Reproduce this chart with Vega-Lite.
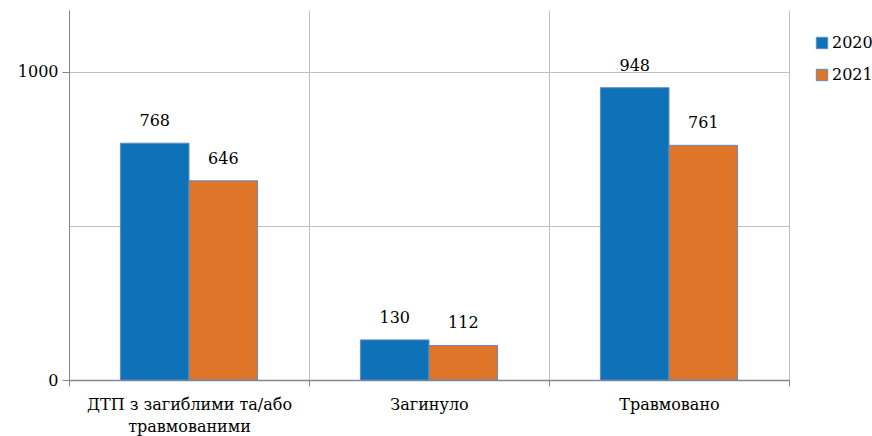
{
  "$schema": "https://vega.github.io/schema/vega-lite/v6.json",
  "width": 720,
  "height": 370,
  "autosize": {"type": "none"},
  "padding": {"left": 69, "top": 10, "right": 83, "bottom": 56},
  "background": "white",
  "config": {
    "view": {"stroke": null},
    "font": "DejaVu Serif",
    "axis": {"labelFont": "DejaVu Serif", "labelColor": "#000000"},
    "legend": {"labelFont": "DejaVu Serif"}
  },
  "data": {
    "values": [
      {"category": "ДТП з загиблими та/або травмованими", "year": "2020", "value": 768},
      {"category": "ДТП з загиблими та/або травмованими", "year": "2021", "value": 646},
      {"category": "Загинуло", "year": "2020", "value": 130},
      {"category": "Загинуло", "year": "2021", "value": 112},
      {"category": "Травмовано", "year": "2020", "value": 948},
      {"category": "Травмовано", "year": "2021", "value": 761}
    ]
  },
  "encoding": {
    "x": {
      "field": "category",
      "type": "nominal",
      "sort": null,
      "scale": {"paddingInner": 0, "paddingOuter": 0},
      "axis": {
        "title": null,
        "labelAngle": 0,
        "labelFontSize": 16,
        "labelPadding": 10,
        "labelLineHeight": 22,
        "labelLimit": 0,
        "labelExpr": "datum.value == 'ДТП з загиблими та/або травмованими' ? ['ДТП з загиблими та/або', 'травмованими'] : datum.value",
        "tickBand": "extent",
        "domainColor": "#868686",
        "tickColor": "#868686",
        "tickSize": 6,
        "grid": true,
        "gridColor": "#c0c0c0",
        "labelOverlap": false
      }
    },
    "xOffset": {
      "field": "year",
      "type": "nominal",
      "scale": {"paddingInner": 0, "paddingOuter": 0.75}
    },
    "y": {
      "field": "value",
      "type": "quantitative",
      "scale": {"domain": [0, 1200], "nice": false},
      "axis": {
        "title": null,
        "values": [0, 500, 1000],
        "labelExpr": "datum.value == 500 ? '' : datum.value",
        "labelFontSize": 16,
        "labelPadding": 4,
        "tickSize": 7,
        "tickOpacity": {"condition": {"test": "datum.value == 500", "value": 0}, "value": 1},
        "domainColor": "#868686",
        "tickColor": "#868686",
        "gridColor": {"condition": {"test": "datum.value == 0", "value": "#868686"}, "value": "#c0c0c0"},
        "gridWidth": {"condition": {"test": "datum.value == 0", "value": 1.5}, "value": 1}
      }
    }
  },
  "layer": [
    {
      "data": {"values": [
        {"category": "ДТП з загиблими та/або травмованими"},
        {"category": "Загинуло"},
        {"category": "Травмовано"}
      ]},
      "mark": {"type": "rule", "color": "#c0c0c0", "strokeWidth": 1},
      "encoding": {
        "x": {"field": "category", "type": "nominal", "sort": null},
        "xOffset": null,
        "y": {"datum": 0},
        "y2": {"datum": 1200}
      }
    },
    {
      "mark": {"type": "bar", "stroke": "#5d8cc4", "strokeWidth": 1},
      "encoding": {
        "color": {
          "field": "year",
          "type": "nominal",
          "scale": {"domain": ["2020", "2021"], "range": ["#0f72b9", "#df7528"]},
          "legend": {
            "title": null,
            "orient": "none",
            "legendX": 745,
            "legendY": 25,
            "symbolType": "square",
            "symbolSize": 130,
            "symbolStrokeColor": "#5d8cc4",
            "symbolStrokeWidth": 1,
            "labelFontSize": 16,
            "labelOffset": 2,
            "rowPadding": 16,
            "labelColor": "#000000"
          }
        }
      }
    },
    {
      "mark": {"type": "text", "baseline": "bottom", "dy": -14, "fontSize": 16, "font": "DejaVu Serif", "color": "#000000"},
      "encoding": {
        "text": {"field": "value", "type": "quantitative"}
      }
    }
  ]
}
